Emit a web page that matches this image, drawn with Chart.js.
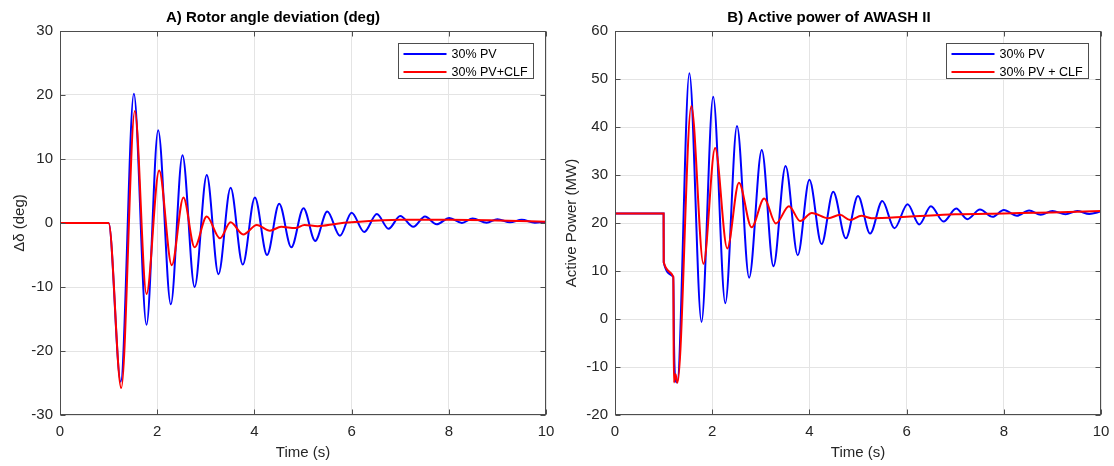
<!DOCTYPE html>
<html>
<head>
<meta charset="utf-8">
<script src="https://cdn.jsdelivr.net/npm/chart.js"></script>
<style>
  body { margin: 0; background: #fff; }
  .panel { position: absolute; top: 0; width: 557px; height: 466px; }
</style>
</head>
<body>
<div class="panel" style="left:0"><canvas id="chartA" width="557" height="466"></canvas></div>
<div class="panel" style="left:557px"><canvas id="chartB" width="557" height="466"></canvas></div>
<script>
// A) rotor angle deviation
const angleTimePV = [0, 1.0, 1.25, 1.52, 1.78, 2.02, 2.28, 2.52, 2.77, 3.02, 3.26, 3.51, 3.76, 4.01, 4.26, 4.51, 4.76, 5.01, 5.25, 5.5, 5.76, 6.0, 6.26, 6.52, 6.76, 7.0, 7.27, 7.51, 7.75, 8.01, 8.27, 8.49, 8.78, 9.0, 9.26, 9.5, 9.77, 10];
const anglePV = [0, 0, -24.8, 20.2, -15.9, 14.5, -12.7, 10.6, -10.0, 7.5, -8.0, 5.5, -6.5, 4.0, -5.0, 3.0, -3.8, 2.3, -2.8, 1.8, -2.0, 1.6, -1.4, 1.4, -0.9, 1.1, -0.6, 1.0, -0.2, 0.8, 0.0, 0.7, 0.05, 0.6, 0.1, 0.5, 0.05, 0.2];
const angleTimeCLF = [0, 1.0, 1.26, 1.54, 1.78, 2.04, 2.30, 2.54, 2.77, 3.02, 3.29, 3.51, 3.77, 4.05, 4.32, 4.55, 4.84, 5.03, 5.3, 5.7, 6.0, 7.0, 8.0, 9.0, 10];
const angleCLF = [0, 0, -25.8, 17.5, -11.1, 8.2, -6.6, 4.0, -3.8, 1.0, -2.4, 0.1, -1.8, -0.3, -1.2, -0.6, -0.8, -0.3, -0.5, -0.1, 0.1, 0.5, 0.5, 0.4, 0.2];

// B) active power of AWASH II (MW)
const powerTimePV = [0, 1.0, 1.003, 1.2, 1.215, 1.24, 1.28, 1.53, 1.78, 2.02, 2.27, 2.51, 2.76, 3.02, 3.26, 3.51, 3.76, 4.0, 4.25, 4.49, 4.75, 5.0, 5.25, 5.5, 5.75, 6.02, 6.26, 6.5, 6.76, 7.02, 7.25, 7.51, 7.77, 8.0, 8.27, 8.52, 8.76, 9.0, 9.27, 9.51, 9.76, 10];
const powerPV = [22, 22, 11.8, 8.8, -5.5, -12.5, -13.2, 51.2, -0.6, 46.3, 3.3, 40.2, 8.6, 35.2, 11.0, 31.9, 13.3, 29.0, 15.6, 26.5, 16.8, 25.6, 17.8, 24.6, 18.9, 23.9, 19.7, 23.5, 20.3, 23.0, 20.8, 22.8, 21.3, 22.7, 21.5, 22.6, 21.7, 22.5, 21.8, 22.5, 21.9, 22.4];
const powerTimeCLF = [0, 1.0, 1.003, 1.2, 1.21, 1.245, 1.285, 1.57, 1.82, 2.06, 2.31, 2.55, 2.81, 3.07, 3.31, 3.58, 3.81, 4.05, 4.39, 4.63, 4.84, 5.07, 5.28, 6.0, 7.0, 8.0, 9.0, 10];
const powerCLF = [22, 22, 11.8, 8.8, -13.2, -11.5, -13.3, 44.4, 11.5, 35.6, 14.7, 28.4, 19.1, 25.1, 19.9, 23.5, 20.4, 22.1, 21.0, 21.7, 20.6, 21.5, 21.0, 21.3, 21.8, 22.0, 22.2, 22.5];

const xTicks = [0, 2, 4, 6, 8, 10];

const FONT = "'Liberation Sans', Arial, sans-serif";
const toPoints = (xs, ys) => xs.map((x, i) => ({x: x, y: ys[i]}));

// matlab style box with inward ticks
const framePlugin = {
  id: 'frame',
  afterDatasetsDraw(chart) {
    const {ctx, chartArea: a, scales} = chart;
    const l = Math.round(a.left) + 0.5, r = Math.round(a.right) - 0.5;
    const t = Math.round(a.top) + 0.5, b = Math.round(a.bottom) - 0.5;
    ctx.save();
    ctx.strokeStyle = '#4d4d4d';
    ctx.lineWidth = 1;
    ctx.strokeRect(l, t, r - l, b - t);
    ctx.beginPath();
    scales.x.ticks.forEach(tk => {
      const px = Math.round(scales.x.getPixelForValue(tk.value)) + 0.5;
      ctx.moveTo(px, b); ctx.lineTo(px, b - 5);
      ctx.moveTo(px, t); ctx.lineTo(px, t + 5);
    });
    scales.y.ticks.forEach(tk => {
      const py = Math.round(scales.y.getPixelForValue(tk.value)) + 0.5;
      ctx.moveTo(l, py); ctx.lineTo(l + 5, py);
      ctx.moveTo(r, py); ctx.lineTo(r - 5, py);
    });
    ctx.stroke();
    ctx.restore();
  }
};

// legend box in the upper right corner
const boxLegend = {
  id: 'boxLegend',
  afterDraw(chart) {
    const {ctx, chartArea: a} = chart;
    const sets = chart.data.datasets;
    ctx.save();
    ctx.font = '12.5px ' + FONT;
    const tw = Math.max(...sets.map(d => ctx.measureText(d.label).width));
    const w = Math.round(5 + 43 + 5 + tw + 6);
    const h = 35;
    const x0 = Math.round(a.right - 13 - w) + 0.5;
    const y0 = Math.round(a.top + 12) + 0.5;
    ctx.fillStyle = '#fff';
    ctx.fillRect(x0, y0, w, h);
    ctx.strokeStyle = '#4d4d4d';
    ctx.lineWidth = 1;
    ctx.strokeRect(x0, y0, w, h);
    sets.forEach((d, i) => {
      const cy = y0 + 10.5 + i * 18;
      ctx.strokeStyle = d.borderColor;
      ctx.lineWidth = 2;
      ctx.beginPath();
      ctx.moveTo(x0 + 5, cy); ctx.lineTo(x0 + 48, cy);
      ctx.stroke();
      ctx.fillStyle = '#000';
      ctx.textBaseline = 'middle';
      ctx.fillText(d.label, x0 + 53, cy + 0.5);
    });
    ctx.restore();
  }
};

function makeChart(id, cfg) {
  return new Chart(document.getElementById(id), {
    type: 'line',
    data: {
      datasets: [
        { label: cfg.labels[0], data: cfg.blue, borderColor: '#0000ff', borderWidth: 2, order: 1 },
        { label: cfg.labels[1], data: cfg.red, borderColor: '#ff0000', borderWidth: 2, order: 0 }
      ]
    },
    options: {
      responsive: false,
      animation: false,
      devicePixelRatio: 1,
      parsing: false,
      elements: {
        point: { radius: 0 },
        line: { cubicInterpolationMode: 'monotone', fill: false }
      },
      layout: { padding: { left: 0, right: cfg.padRight, top: 0, bottom: 0 } },
      plugins: {
        legend: { display: false },
        tooltip: { enabled: false },
        title: {
          display: true,
          text: cfg.title,
          color: '#000',
          font: { family: FONT, size: 15, weight: 'bold' },
          padding: { top: 9, bottom: 4 }
        }
      },
      scales: {
        x: {
          type: 'linear',
          min: 0, max: 10,
          afterBuildTicks: s => { s.ticks = xTicks.map(v => ({value: v})); },
          afterFit: s => { s.height = 51; s.paddingLeft = 0; s.paddingRight = 0; },
          ticks: { color: '#262626', font: { family: FONT, size: 15 }, padding: 8, maxRotation: 0 },
          grid: { color: '#e4e4e4', drawTicks: false },
          border: { display: false },
          title: { display: true, text: 'Time (s)', color: '#262626', font: { family: FONT, size: 15 }, padding: { top: 0, bottom: 4 } }
        },
        y: {
          type: 'linear',
          min: cfg.yMin, max: cfg.yMax,
          afterBuildTicks: s => { s.ticks = cfg.yTicks.map(v => ({value: v})); },
          afterFit: s => { s.width = cfg.yWidth; s.paddingTop = 0; s.paddingBottom = 0; },
          ticks: { color: '#262626', font: { family: FONT, size: 15 }, padding: 7 },
          grid: { color: '#e4e4e4', drawTicks: false },
          border: { display: false },
          title: { display: true, text: cfg.yTitle, color: '#262626', font: { family: FONT, size: 15 }, padding: { top: cfg.yTitlePad, bottom: 0 } }
        }
      }
    },
    plugins: [framePlugin, boxLegend]
  });
}

makeChart('chartA', {
  title: 'A) Rotor angle deviation (deg)',
  labels: ['30% PV', '30% PV+CLF'],
  blue: toPoints(angleTimePV, anglePV),
  red: toPoints(angleTimeCLF, angleCLF),
  yMin: -30, yMax: 30,
  yTicks: [-30, -20, -10, 0, 10, 20, 30],
  yTitle: 'Δδ (deg)',
  yTitlePad: 11,
  yWidth: 60,
  padRight: 11
});

makeChart('chartB', {
  title: 'B) Active power of AWASH II',
  labels: ['30% PV', '30% PV + CLF'],
  blue: toPoints(powerTimePV, powerPV),
  red: toPoints(powerTimeCLF, powerCLF),
  yMin: -20, yMax: 60,
  yTicks: [-20, -10, 0, 10, 20, 30, 40, 50, 60],
  yTitle: 'Active Power (MW)',
  yTitlePad: 6,
  yWidth: 58,
  padRight: 13
});
</script>
</body>
</html>
